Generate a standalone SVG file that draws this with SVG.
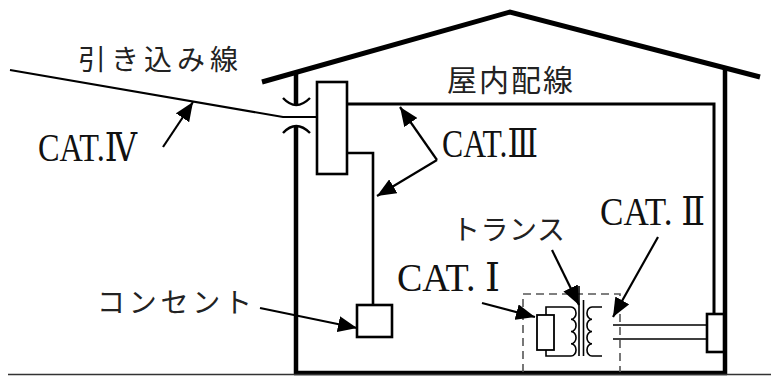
<svg xmlns="http://www.w3.org/2000/svg" width="771" height="376" viewBox="0 0 771 376">
  <style>
    .bg { fill: #ffffff; }
    .wall { fill: none; stroke: #000; stroke-width: 4.5; stroke-linecap: butt; }
    .roof { fill: none; stroke: #000; stroke-width: 5; stroke-linejoin: miter; }
    .wire { fill: none; stroke: #000; stroke-width: 3; }
    .thin { fill: none; stroke: #000; stroke-width: 1.6; }
    .box { fill: #fff; stroke: #000; stroke-width: 2.6; }
    .dash { fill: none; stroke: #555; stroke-width: 1.6; stroke-dasharray: 8 5; }
    .arrow { fill: none; stroke: #000; stroke-width: 2.2; marker-end: url(#head); }
    .jp { font-family: "Noto Sans CJK JP", "Noto Sans", sans-serif; fill: #222; }
    .cat { font-family: "Liberation Serif", "DejaVu Serif", "Noto Sans CJK JP", serif; font-size: 39px; fill: #111; }
  </style>
  <defs>
    <marker id="head" markerUnits="userSpaceOnUse" markerWidth="20" markerHeight="16" refX="19" refY="8" orient="auto">
      <path d="M0,0 L19,8 L0,16 z" fill="#000"/>
    </marker>
  </defs>

  <rect class="bg" x="0" y="0" width="771" height="376"/>

  <!-- house outline -->
  <g id="house">
    <path class="roof" d="M262,82 L510,12 L760,77"/>
    <path class="wall" d="M296,72 V104"/>
    <path class="thin" style="stroke-width:2.4" d="M283,98 Q296,112 310,98"/>
    <path class="thin" style="stroke-width:2.4" d="M283,133 Q296,119 310,133"/>
    <path class="wall" d="M296,126 V374"/>
    <path class="wall" d="M725,68 V374"/>
    <path class="wall" d="M294,373 H727"/>
    <path fill="none" stroke="#333" stroke-width="1.5" d="M8,374.5 H771"/>
  </g>

  <!-- wiring -->
  <g id="connectors">
    <path class="thin" style="stroke-width:2.2" d="M10,70 L283,117 H317"/>
    <path class="wire" d="M347,104 H714 V314"/>
    <path class="wire" style="stroke-width:2.6" d="M347,153 H373 V305"/>
    <path class="thin" d="M613,325 H707 M613,339 H707"/>
  </g>

  <g id="panel">
    <rect class="box" x="317" y="82" width="30" height="92"/>
  </g>

  <g id="outlet">
    <rect class="box" x="357" y="305" width="35" height="32"/>
  </g>

  <g id="wall-outlet">
    <rect class="box" x="707" y="314" width="17" height="38"/>
  </g>

  <!-- isolated equipment: load + transformer -->
  <g id="equipment">
    <path class="dash" d="M523,372 V294 H620 V372"/>
    <rect class="box" style="stroke-width:1.8" x="537" y="315" width="17" height="35"/>
    <path class="thin" d="M546,315 V307 H571 M546,350 V356 H571"/>
    <path class="thin" d="M571,307 a5,6.1 0 0 1 0,12.25 a5,6.1 0 0 1 0,12.25 a5,6.1 0 0 1 0,12.25 a5,6.1 0 0 1 0,12.25"/>
    <path class="thin" d="M579,286 V356 M583.5,300 V356"/>
    <path class="thin" d="M602,307 H592 a5,6.1 0 0 0 0,12.25 a5,6.1 0 0 0 0,12.25 a5,6.1 0 0 0 0,12.25 a5,6.1 0 0 0 0,12.25 H602"/>
  </g>

  <!-- pointer arrows -->
  <g id="arrows">
    <path class="arrow" d="M163,147 L193,102"/>
    <path class="arrow" d="M437,160 L400,107"/>
    <path class="arrow" d="M437,160 L377,196"/>
    <path class="arrow" d="M260,308 L357,328"/>
    <path class="arrow" d="M552,250 L579,305"/>
    <path class="arrow" d="M658,237 L613,317"/>
    <path class="arrow" d="M482,303 L535,317"/>
  </g>

  <!-- labels -->
  <g id="labels">
    <text class="jp" x="78" y="70" font-size="28" textLength="160" lengthAdjust="spacing">引き込み線</text>
    <text class="jp" x="447" y="91" font-size="30" textLength="126" lengthAdjust="spacing">屋内配線</text>
    <text class="jp" x="97" y="313" font-size="28" textLength="155" lengthAdjust="spacing">コンセント</text>
    <text class="jp" x="452" y="240" font-size="28" textLength="113" lengthAdjust="spacing">トランス</text>
    <text class="cat" x="38" y="161" textLength="99" lengthAdjust="spacingAndGlyphs">CAT.Ⅳ</text>
    <text class="cat" x="442" y="157" textLength="96" lengthAdjust="spacingAndGlyphs">CAT.Ⅲ</text>
    <text class="cat" x="600" y="225" textLength="105" lengthAdjust="spacingAndGlyphs">CAT. Ⅱ</text>
    <text class="cat" x="397" y="291" textLength="103" lengthAdjust="spacingAndGlyphs">CAT. Ⅰ</text>
  </g>
</svg>
